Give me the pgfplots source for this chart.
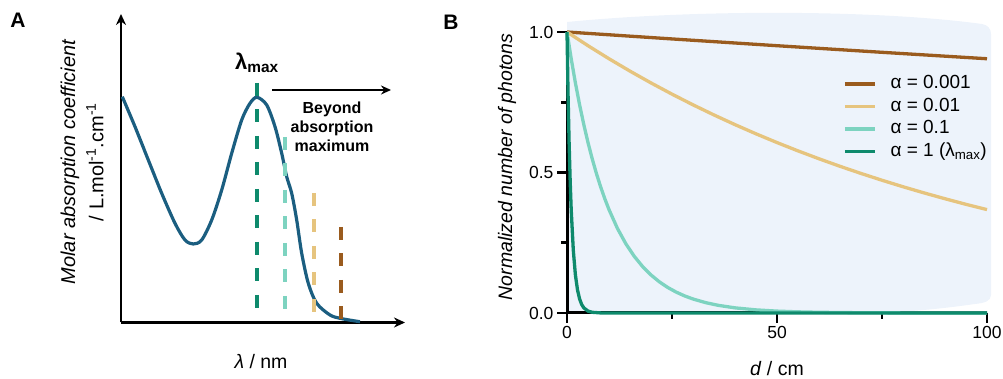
\documentclass[border=0pt]{standalone}
\usepackage{pgfplots}
\pgfplotsset{compat=1.18}
\usepackage{fontspec}
\setmainfont{Liberation Sans}
\usetikzlibrary{arrows.meta}
\definecolor{curveA}{HTML}{1B5E80}
\definecolor{dkgreen}{HTML}{0E8A6C}
\definecolor{lteal}{HTML}{7DD3C0}
\definecolor{tan}{HTML}{E6C47E}
\definecolor{brownc}{HTML}{9A5B1E}
\definecolor{bgblue}{HTML}{EDF3FB}
\begin{document}
\begin{tikzpicture}
\path[use as bounding box] (0pt,0pt) rectangle (1003pt,379pt);
% decorative background of panel B
\fill[bgblue] (567pt,357pt) .. controls (700pt,370pt) and (880pt,369pt) .. (982pt,355pt)
  .. controls (988pt,354pt) and (991pt,350pt) .. (991pt,345pt) -- (991pt,84pt)
  .. controls (991pt,78pt) and (985pt,76pt) .. (975pt,75pt)
  .. controls (940pt,70pt) and (900pt,66pt) .. (860pt,66pt) -- (567pt,66pt) -- cycle;

% ---------------- Panel A ----------------
\begin{axis}[
  at={(121pt,56.5pt)}, anchor=south west, scale only axis,
  width=284pt, height=308.5pt,
  xmin=121, xmax=405, ymin=0, ymax=308.5,
  axis x line*=bottom, axis y line*=left,
  axis line style={line width=2.8pt, -{Stealth[length=11pt,width=10pt]}},
  xtick=\empty, ytick=\empty, clip=false]
\addplot[curveA, line width=3.2pt, smooth, tension=0.5] coordinates {
(122.3,225.8) (135,195.8) (148.3,162.5) (161.7,129.2) (175,99.2) (185,82.5)
(193.3,78.5) (201.7,82.5) (211.7,102.5) (221.7,132.5) (231.7,169.2) (241.7,202.5)
(250,219.2) (257,225.2) (266.7,217.5) (275,195.8) (281.7,169.2) (286.7,145.8)
(291.7,129.2) (296.7,102.5) (301.7,69.2) (308.3,39.2) (316.7,19.2) (330,7.5)
(340,4.2) (353.3,1.8) (360,0.8)};
\addplot[dkgreen, line width=4pt, dash pattern=on 13pt off 13.5pt] coordinates {(256.7,239.5) (256.7,9.5)};
\addplot[lteal, line width=4pt, dash pattern=on 13pt off 13.5pt] coordinates {(285,185.5) (285,10)};
\addplot[tan, line width=4pt, dash pattern=on 13pt off 13.5pt] coordinates {(314,129.5) (314,9.5)};
\addplot[brownc, line width=4pt, dash pattern=on 13pt off 13.5pt] coordinates {(340.5,95.5) (340.5,0)};
\end{axis}

\node[font=\bfseries\fontsize{21}{24}\selectfont] at (18pt,359pt) {A};
\node[font=\bfseries\fontsize{22}{24}\selectfont] at (257pt,316pt) {λ\textsubscript{max}};
\draw[line width=2pt, -{Stealth[length=10pt,width=9pt]}] (272pt,289pt) -- (391pt,289pt);
\node[font=\bfseries\fontsize{16}{19}\selectfont, align=center] at (332pt,252pt) {Beyond\\absorption\\maximum};
\node[rotate=90, font=\itshape\fontsize{20}{24}\selectfont] at (70pt,217pt) {Molar absorption coefficient};
\node[rotate=90, font=\fontsize{20}{24}\selectfont] at (95pt,217pt) {/ L.mol\textsuperscript{-1}.cm\textsuperscript{-1}};
\node[font=\fontsize{19.5}{22}\selectfont] at (261pt,17pt) {\textit{λ} / nm};

% ---------------- Panel B ----------------
\begin{axis}[
  at={(567pt,66pt)}, anchor=south west, scale only axis,
  width=420pt, height=281pt,
  xmin=0, xmax=100, ymin=0, ymax=1,
  axis x line*=bottom, axis y line*=left,
  axis line style={line width=3pt, black},
  xtick={0,50,100}, ytick={0,0.5,1},
  minor xtick={25,75}, minor ytick={0.25,0.75},
  tick align=outside, major tick length=10pt, minor tick length=6pt,
  tick style={line width=2.8pt, black},
  tick label style={font=\fontsize{17.5}{20}\selectfont},
  /pgf/number format/assume math mode=true,
  yticklabel style={/pgf/number format/.cd, fixed, fixed zerofill, precision=1},
  clip=false,
  legend cell align=left,
  legend style={at={(axis cs:65.7,0.855)}, anchor=north west, draw=none, fill=none,
    inner sep=0pt, row sep=0pt, font=\fontsize{19}{22}\selectfont,
    nodes={inner sep=2pt, text height=14pt, text depth=4.5pt},
    /tikz/every odd column/.append style={column sep=12pt}},
  legend image code/.code={\draw[#1, line width=3.4pt] (0pt,0pt) -- (30pt,0pt);}
]
\addplot[brownc, line width=3.3pt] coordinates {(0,1) (25,0.9753) (50,0.9512) (75,0.9277) (100,0.9048)};
\addlegendentry{α = 0.001}
\addplot[tan, line width=3.3pt] coordinates {
(0,1) (5,0.9512) (10,0.9048) (15,0.8607) (20,0.8187) (25,0.7788) (30,0.7408) (35,0.7047)
(40,0.6703) (45,0.6376) (50,0.6065) (55,0.5769) (60,0.5488) (65,0.5220) (70,0.4966)
(75,0.4724) (80,0.4493) (85,0.4274) (90,0.4066) (95,0.3867) (100,0.3679)};
\addlegendentry{α = 0.01}
\addplot[lteal, line width=3.3pt] coordinates {
(0,1) (1,0.9048) (2,0.8187) (3,0.7408) (4,0.6703) (5,0.6065) (6,0.5488) (7,0.4966)
(8,0.4493) (9,0.4066) (10,0.3679) (12,0.3012) (14,0.2466) (16,0.2019) (18,0.1653)
(20,0.1353) (22,0.1108) (24,0.0907) (26,0.0743) (28,0.0608) (30,0.0498) (33,0.0369)
(36,0.0273) (40,0.0183) (45,0.0111) (50,0.0067) (55,0.0041) (60,0.0025) (70,0.0009)
(80,0.0003) (90,0.0001) (100,0)};
\addlegendentry{α = 0.1}
\addplot[dkgreen, line width=3.3pt] coordinates {
(0,1) (0.25,0.7788) (0.5,0.6065) (0.75,0.4724) (1,0.3679) (1.5,0.2231) (2,0.1353)
(2.5,0.0821) (3,0.0498) (3.5,0.0302) (4,0.0183) (5,0.0067) (6,0.0025) (8,0.0003)
(10,0) (100,0)};
\addlegendentry{α = 1 (λ\textsubscript{max})}
\end{axis}

\node[font=\bfseries\fontsize{21}{24}\selectfont] at (451pt,357pt) {B};
\node[rotate=90, font=\itshape\fontsize{19.5}{22}\selectfont] at (507pt,212pt) {Normalized number of photons};
\node[font=\fontsize{19.5}{22}\selectfont] at (777pt,10pt) {\textit{d} / cm};
\end{tikzpicture}
\end{document}
